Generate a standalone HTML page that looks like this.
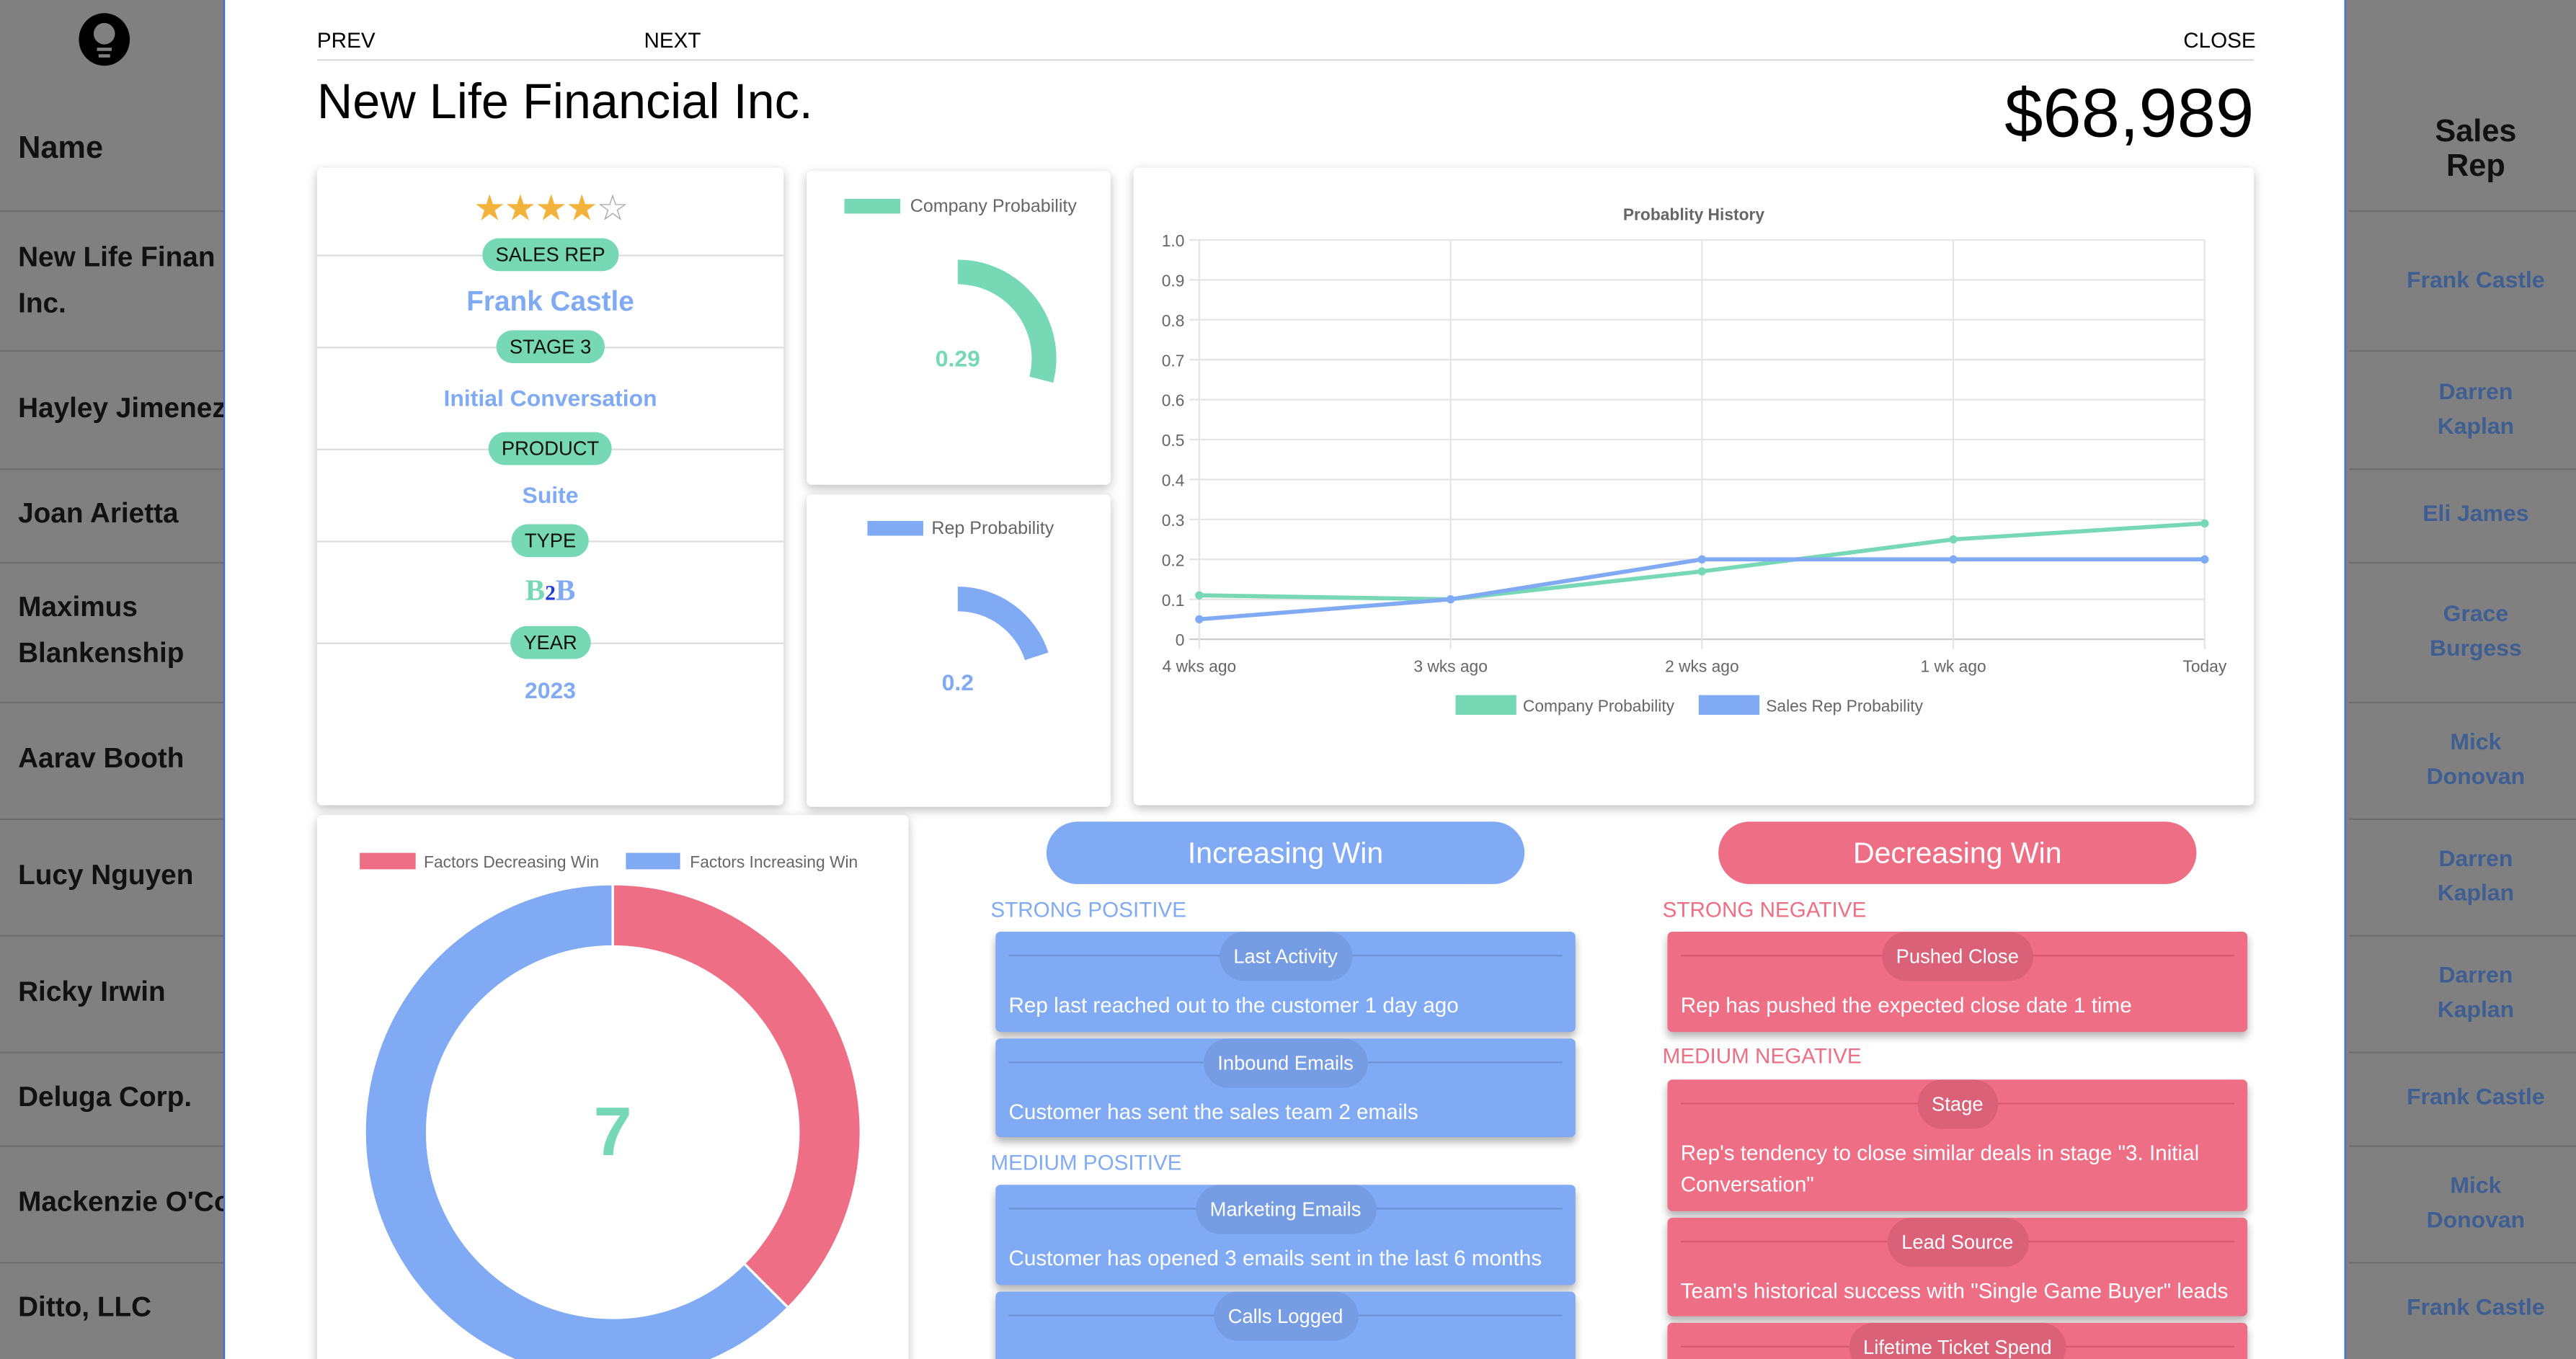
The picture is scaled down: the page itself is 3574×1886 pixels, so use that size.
<!DOCTYPE html>
<html><head><meta charset="utf-8">
<style>
html,body{margin:0;padding:0;width:3574px;height:1886px;overflow:hidden;background:#808080;}
#root{position:absolute;left:0;top:0;width:1568px;height:827px;overflow:hidden;transform:scale(2.2793,2.2805);transform-origin:0 0;font-family:"Liberation Sans",sans-serif;}
.a{position:absolute;}
.side{background:#808080;}
.nm{position:absolute;left:11px;font-weight:bold;font-size:17px;color:#111;line-height:28px;}
.sep{position:absolute;height:1px;background:#6e6e6e;}
.rep{position:absolute;left:1432px;width:150px;text-align:center;font-weight:bold;font-size:14px;color:#3f5e92;line-height:21px;}
.card{position:absolute;background:#fff;border-radius:3px;box-shadow:0 2px 6px rgba(0,0,0,.25);}
.pill{position:absolute;background:#77d8b5;border-radius:12px;font-size:12px;color:#111;height:20px;line-height:20px;padding:0 8px;transform:translateX(-50%);}
.hl{position:absolute;height:1px;background:#ddd;}
.val{position:absolute;left:0;width:284px;text-align:center;font-weight:bold;font-size:15px;color:#80aaf3;}
.fc{position:absolute;border-radius:3px;box-shadow:0 3px 5px rgba(0,0,0,.3);color:#fff;font-size:13px;overflow:hidden;}
.fc .ln{position:absolute;left:8px;right:8px;top:14px;height:1px;}
.fc .pl{position:absolute;left:50%;transform:translateX(-50%);top:0;height:30px;line-height:30px;padding:0 9px;border-radius:15px;font-size:12px;white-space:nowrap;}
.fc .tx{position:absolute;left:8px;right:8px;top:35px;line-height:19px;}
.blue{background:#80abf4;} .blue .ln{background:#6d93d6;} .blue .pl{background:#769de3;}
.red{background:#ee6e85;} .red .ln{background:#d85a72;} .red .pl{background:#db6178;}
.sec{position:absolute;font-size:13px;}
</style></head><body>
<div id="root">
<div class="a side" style="left:0;top:0;width:137px;height:827px;">
  <div class="a" style="left:48px;top:8px;width:31px;height:32px;border-radius:50%;background:#000;">
    <div class="a" style="left:9px;top:6px;width:13px;height:13px;border-radius:50%;background:#808080;"></div>
    <div class="a" style="left:11px;top:21px;width:9px;height:2px;background:#808080;"></div>
    <div class="a" style="left:12px;top:25px;width:7px;height:2px;background:#808080;"></div>
  </div>
  <div class="nm" style="top:77px;font-size:19px;">Name</div>
  <div class="sep" style="top:128px;left:0;width:137px;"></div>
  <div class="nm" style="top:143px;white-space:nowrap;">New Life Finan<br>Inc.</div>
  <div class="sep" style="top:213px;left:0;width:137px;"></div>
  <div class="nm" style="top:235px;white-space:nowrap;">Hayley Jimenez</div>
  <div class="sep" style="top:285px;left:0;width:137px;"></div>
  <div class="nm" style="top:299px;">Joan Arietta</div>
  <div class="sep" style="top:342px;left:0;width:137px;"></div>
  <div class="nm" style="top:356px;">Maximus<br>Blankenship</div>
  <div class="sep" style="top:427px;left:0;width:137px;"></div>
  <div class="nm" style="top:448px;">Aarav Booth</div>
  <div class="sep" style="top:498px;left:0;width:137px;"></div>
  <div class="nm" style="top:519px;">Lucy Nguyen</div>
  <div class="sep" style="top:569px;left:0;width:137px;"></div>
  <div class="nm" style="top:590px;">Ricky Irwin</div>
  <div class="sep" style="top:640px;left:0;width:137px;"></div>
  <div class="nm" style="top:654px;">Deluga Corp.</div>
  <div class="sep" style="top:697px;left:0;width:137px;"></div>
  <div class="nm" style="top:718px;white-space:nowrap;">Mackenzie O'Connor</div>
  <div class="sep" style="top:768px;left:0;width:137px;"></div>
  <div class="nm" style="top:782px;">Ditto, LLC</div>
</div>
<div class="a side" style="left:1428px;top:0;width:140px;height:827px;"></div>
<div class="rep" style="top:70px;font-size:19px;color:#111;line-height:21px;">Sales<br>Rep</div>
<div class="sep" style="top:128px;left:1430px;width:138px;"></div>
<div class="rep" style="top:160px;">Frank Castle</div>
<div class="sep" style="top:213px;left:1430px;width:138px;"></div>
<div class="rep" style="top:228px;">Darren<br>Kaplan</div>
<div class="sep" style="top:285px;left:1430px;width:138px;"></div>
<div class="rep" style="top:302px;">Eli James</div>
<div class="sep" style="top:342px;left:1430px;width:138px;"></div>
<div class="rep" style="top:363px;">Grace<br>Burgess</div>
<div class="sep" style="top:427px;left:1430px;width:138px;"></div>
<div class="rep" style="top:441px;">Mick<br>Donovan</div>
<div class="sep" style="top:498px;left:1430px;width:138px;"></div>
<div class="rep" style="top:512px;">Darren<br>Kaplan</div>
<div class="sep" style="top:569px;left:1430px;width:138px;"></div>
<div class="rep" style="top:583px;">Darren<br>Kaplan</div>
<div class="sep" style="top:640px;left:1430px;width:138px;"></div>
<div class="rep" style="top:657px;">Frank Castle</div>
<div class="sep" style="top:697px;left:1430px;width:138px;"></div>
<div class="rep" style="top:711px;">Mick<br>Donovan</div>
<div class="sep" style="top:768px;left:1430px;width:138px;"></div>
<div class="rep" style="top:785px;">Frank Castle</div>

<div class="a" style="left:136px;top:-4px;width:1290px;height:900px;background:#fff;border-left:1.5px solid #3a6fd8;border-right:1.5px solid #3a6fd8;border-radius:4px;"></div>
<div class="a" style="left:193px;top:17px;font-size:13px;">PREV</div>
<div class="a" style="left:392px;top:17px;font-size:13px;">NEXT</div>
<div class="a" style="left:1329px;top:17px;font-size:13px;">CLOSE</div>
<div class="a" style="left:193px;top:36px;width:1179px;height:1px;background:#ddd;"></div>
<div class="a" style="left:193px;top:45px;font-size:30px;line-height:36px;">New Life Financial Inc.</div>
<div class="a" style="left:1100px;width:272px;text-align:right;top:45px;font-size:42px;line-height:48px;">$68,989</div>

<div class="card" style="left:193px;top:102px;width:284px;height:388px;">
  <div class="a" style="left:0;width:284px;top:13px;text-align:center;font-size:22px;line-height:24px;letter-spacing:-1px;color:#f2b33d;">★★★★<span style="color:#aaa">☆</span></div>
  <div class="hl" style="left:0;width:284px;top:53px;"></div>
  <div class="pill" style="left:142px;top:43px;">SALES REP</div>
  <div class="val" style="top:72px;font-size:17px;">Frank Castle</div>
  <div class="hl" style="left:0;width:284px;top:109px;"></div>
  <div class="pill" style="left:142px;top:99px;">STAGE 3</div>
  <div class="val" style="top:132px;font-size:14px;">Initial Conversation</div>
  <div class="hl" style="left:0;width:284px;top:171px;"></div>
  <div class="pill" style="left:142px;top:161px;">PRODUCT</div>
  <div class="val" style="top:191px;font-size:14px;">Suite</div>
  <div class="hl" style="left:0;width:284px;top:227px;"></div>
  <div class="pill" style="left:142px;top:217px;">TYPE</div>
  <div class="val" style="top:247px;font-family:'Liberation Serif',serif;font-size:18px;"><span style="color:#77d8b5">B</span><span style="color:#1a3ae0;font-size:13px">2</span>B</div>
  <div class="hl" style="left:0;width:284px;top:289px;"></div>
  <div class="pill" style="left:142px;top:279px;">YEAR</div>
  <div class="val" style="top:310px;font-size:14px;">2023</div>
</div>

<div class="card" style="left:491px;top:104px;width:185px;height:191px;">
  <svg width="185" height="191" style="position:absolute;left:0;top:0">
    <rect x="23" y="17" width="34" height="9" fill="#77d8b5"/>
    <text x="63" y="25" font-size="11" fill="#666" font-family="Liberation Sans">Company Probability</text>
    <path id="gauge1" fill="#77d8b5"/>
    <text id="gauge1t" x="92" y="119" text-anchor="middle" font-size="14" font-weight="bold" fill="#77d8b5" font-family="Liberation Sans"></text>
  </svg>
</div>
<div class="card" style="left:491px;top:301px;width:185px;height:190px;">
  <svg width="185" height="190" style="position:absolute;left:0;top:0">
    <rect x="37" y="16" width="34" height="9" fill="#80aaf3"/>
    <text x="76" y="24" font-size="11" fill="#666" font-family="Liberation Sans">Rep Probability</text>
    <path id="gauge2" fill="#80aaf3"/>
    <text id="gauge2t" x="92" y="119" text-anchor="middle" font-size="14" font-weight="bold" fill="#80aaf3" font-family="Liberation Sans"></text>
  </svg>
</div>

<div class="card" style="left:690px;top:102px;width:682px;height:388px;">
  <svg id="lc" width="682" height="388" style="position:absolute;left:0;top:0" font-family="Liberation Sans"></svg>
</div>

<div class="card" style="left:193px;top:496px;width:360px;height:400px;">
  <svg id="dn" width="360" height="400" style="position:absolute;left:0;top:0" font-family="Liberation Sans"></svg>
</div>

<div class="a" style="left:637px;top:500px;width:291px;height:38px;border-radius:19px;background:#80abf4;color:#fff;font-size:18px;line-height:38px;text-align:center;">Increasing Win</div>
<div class="a" style="left:1046px;top:500px;width:291px;height:38px;border-radius:19px;background:#ee6e85;color:#fff;font-size:18px;line-height:38px;text-align:center;">Decreasing Win</div>

<div class="sec" style="left:603px;top:546px;color:#80abf4;">STRONG POSITIVE</div>
<div class="fc blue" style="left:606px;top:567px;width:353px;height:61px;"><div class="ln"></div><div class="pl">Last Activity</div><div class="tx">Rep last reached out to the customer 1 day ago</div></div>
<div class="fc blue" style="left:606px;top:632px;width:353px;height:60px;"><div class="ln"></div><div class="pl">Inbound Emails</div><div class="tx">Customer has sent the sales team 2 emails</div></div>
<div class="sec" style="left:603px;top:700px;color:#80abf4;">MEDIUM POSITIVE</div>
<div class="fc blue" style="left:606px;top:721px;width:353px;height:61px;"><div class="ln"></div><div class="pl">Marketing Emails</div><div class="tx">Customer has opened 3 emails sent in the last 6 months</div></div>
<div class="fc blue" style="left:606px;top:786px;width:353px;height:80px;"><div class="ln"></div><div class="pl">Calls Logged</div></div>

<div class="sec" style="left:1012px;top:546px;color:#ee6e85;">STRONG NEGATIVE</div>
<div class="fc red" style="left:1015px;top:567px;width:353px;height:61px;"><div class="ln"></div><div class="pl">Pushed Close</div><div class="tx">Rep has pushed the expected close date 1 time</div></div>
<div class="sec" style="left:1012px;top:635px;color:#ee6e85;">MEDIUM NEGATIVE</div>
<div class="fc red" style="left:1015px;top:657px;width:353px;height:80px;"><div class="ln"></div><div class="pl">Stage</div><div class="tx">Rep's tendency to close similar deals in stage "3. Initial Conversation"</div></div>
<div class="fc red" style="left:1015px;top:741px;width:353px;height:60px;"><div class="ln"></div><div class="pl">Lead Source</div><div class="tx">Team's historical success with "Single Game Buyer" leads</div></div>
<div class="fc red" style="left:1015px;top:805px;width:353px;height:80px;"><div class="ln"></div><div class="pl">Lifetime Ticket Spend</div></div>
</div>

<script>
const companyProbability = 0.29;
const repProbability = 0.2;
const xLabels = ["4 wks ago","3 wks ago","2 wks ago","1 wk ago","Today"];
const yTicks = [0,0.1,0.2,0.3,0.4,0.5,0.6,0.7,0.8,0.9,1.0];
const companySeries = [0.11,0.10,0.17,0.25,0.29];
const repSeries = [0.05,0.10,0.20,0.20,0.20];
const donutLabels = ["Factors Decreasing Win","Factors Increasing Win"];
const donutValues = [3,5];
const donutCenterValue = 7;

const NS="http://www.w3.org/2000/svg";
function mk(parent,tag,attrs,name,txt){const e=document.createElementNS(NS,tag);for(const k in attrs)e.setAttribute(k,attrs[k]);


if(txt!==undefined)e.textContent=txt;parent.appendChild(e);return e;}
function arcPath(cx,cy,ro,ri,a0,a1){
  const p=(r,a)=>[cx+r*Math.sin(a),cy-r*Math.cos(a)];
  const large=(a1-a0)>Math.PI?1:0;
  const [x1,y1]=p(ro,a0),[x2,y2]=p(ro,a1),[x3,y3]=p(ri,a1),[x4,y4]=p(ri,a0);
  return `M${x1},${y1}A${ro},${ro} 0 ${large} 1 ${x2},${y2}L${x3},${y3}A${ri},${ri} 0 ${large} 0 ${x4},${y4}Z`;
}
document.getElementById('gauge1').setAttribute('d',arcPath(92,114,60,45,0,companyProbability*2*Math.PI));
document.getElementById('gauge1t').textContent=String(companyProbability);
document.getElementById('gauge2').setAttribute('d',arcPath(92,114,58,43,0,repProbability*2*Math.PI));
document.getElementById('gauge2t').textContent=String(repProbability);

const lc=document.getElementById('lc');
const L=40,R=652,T=44,B=287;
const xs=i=>L+i*(R-L)/(xLabels.length-1);
const ys=v=>B-v*(B-T);
mk(lc,'text',{x:341,y:32,'text-anchor':'middle','font-size':10,'font-weight':'bold',fill:'#666'},'chart-title','Probablity History');
yTicks.forEach(t=>{
  mk(lc,'line',{x1:L-6,x2:R,y1:ys(t),y2:ys(t),stroke:t===0?'#ccc':'#e5e5e5','stroke-width':1},'y-gridline');
  mk(lc,'text',{x:L-9,y:ys(t)+4,'text-anchor':'end','font-size':10,fill:'#666'},'y-tick-label',t===0?'0':t.toFixed(1));
});
xLabels.forEach((l,i)=>{
  mk(lc,'line',{x1:xs(i),x2:xs(i),y1:T,y2:B+6,stroke:'#e5e5e5','stroke-width':1},'x-gridline');
  mk(lc,'text',{x:xs(i),y:B+20,'text-anchor':'middle','font-size':10,fill:'#666'},'x-tick-label',l);
});
function series(vals,col,name){
  mk(lc,'polyline',{points:vals.map((v,i)=>xs(i)+','+ys(v)).join(' '),fill:'none',stroke:col,'stroke-width':2.5},name+'-line');
  vals.forEach((v,i)=>mk(lc,'circle',{cx:xs(i),cy:ys(v),r:2.5,fill:col},name+'-point'));
}
series(companySeries,'#77d8b5','company-probability');
series(repSeries,'#80aaf3','sales-rep-probability');
mk(lc,'rect',{x:196,y:321,width:37,height:12,fill:'#77d8b5'},'legend-swatch-company');
mk(lc,'text',{x:237,y:331,'font-size':10,fill:'#666'},'legend-entry-company','Company Probability');
mk(lc,'rect',{x:344,y:321,width:37,height:12,fill:'#80aaf3'},'legend-swatch-rep');
mk(lc,'text',{x:385,y:331,'font-size':10,fill:'#666'},'legend-entry-rep','Sales Rep Probability');

const dn=document.getElementById('dn');
const cols=['#ee6e85','#80aaf3'];
mk(dn,'rect',{x:26,y:23,width:34,height:10,fill:cols[0]},'legend-swatch-decreasing');
mk(dn,'text',{x:65,y:32,'font-size':10,fill:'#666'},'legend-entry-decreasing',donutLabels[0]);
mk(dn,'rect',{x:188,y:23,width:33,height:10,fill:cols[1]},'legend-swatch-increasing');
mk(dn,'text',{x:227,y:32,'font-size':10,fill:'#666'},'legend-entry-increasing',donutLabels[1]);
const tot=donutValues.reduce((a,b)=>a+b,0);let a=0;
donutValues.forEach((v,i)=>{const a1=a+v/tot*2*Math.PI;
  mk(dn,'path',{d:arcPath(180,193,151,113,a,a1),fill:cols[i],stroke:'#fff','stroke-width':1.5},'donut-slice');a=a1;});
mk(dn,'text',{x:180,y:207,'text-anchor':'middle','font-size':42,'font-weight':'bold',fill:'#77d8b5'},'donut-center-value',String(donutCenterValue));
</script>
</body></html>
